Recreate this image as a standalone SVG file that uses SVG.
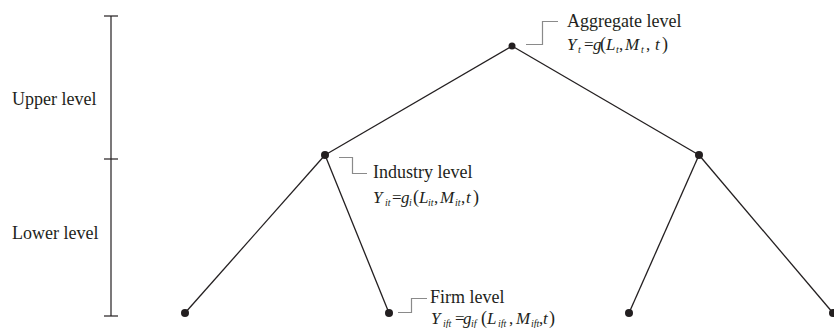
<svg xmlns="http://www.w3.org/2000/svg" width="834" height="328" viewBox="0 0 834 328">
<style>
.edge{stroke:#231f20;stroke-width:1.3;fill:none}
.dot{fill:#231f20}
.call{stroke:#8a8a8a;stroke-width:1.2;fill:none}
.bar{stroke:#231f20;stroke-width:1.2;fill:none}
.lbl{font-family:"Liberation Serif","Times New Roman",serif;font-size:18px;fill:#231f20}
.f{font-family:"Liberation Serif","Times New Roman",serif;font-size:17px;fill:#231f20;font-style:italic}
.u{font-style:normal}
.p{font-style:normal;font-size:18px}
.s{font-size:10px}
</style>
<rect width="834" height="328" fill="#ffffff"/>
<g id="scale">
<line class="bar" x1="111" y1="16" x2="111" y2="316"/>
<line class="bar" x1="104" y1="16" x2="118" y2="16"/>
<line class="bar" x1="104" y1="159" x2="118" y2="159"/>
<line class="bar" x1="104" y1="316" x2="118" y2="316"/>
<text class="lbl" x="12" y="105">Upper level</text>
<text class="lbl" x="12" y="239">Lower level</text>
</g>
<g id="connectors">
<line class="edge" x1="512" y1="46" x2="325" y2="155"/>
<line class="edge" x1="512" y1="46" x2="699" y2="155"/>
<line class="edge" x1="325" y1="155" x2="185" y2="313"/>
<line class="edge" x1="325" y1="155" x2="389" y2="313"/>
<line class="edge" x1="699" y1="155" x2="629" y2="313"/>
<line class="edge" x1="699" y1="155" x2="833" y2="313"/>
</g>
<g id="aggregate">
<circle class="dot" cx="512" cy="46" r="3.5"/>
<polyline class="call" points="526,44.5 542.5,44.5 542.5,21.5 558,21.5"/>
<text class="lbl" x="567" y="27">Aggregate level</text>
<text class="f" y="50"><tspan x="567">Y</tspan><tspan class="s" x="578" y="53">t</tspan><tspan class="u" x="584" y="50">=</tspan><tspan x="593">g</tspan><tspan class="p" x="600">(</tspan><tspan x="606">L</tspan><tspan class="s" x="616" y="53">t</tspan><tspan class="u" x="619" y="50">,</tspan><tspan x="625">M</tspan><tspan class="s" x="641" y="53">t</tspan><tspan class="u" x="646" y="50">,</tspan><tspan x="655">t</tspan><tspan class="p" x="662">)</tspan></text>
</g>
<g id="industry-left">
<circle class="dot" cx="325" cy="155" r="4"/>
<polyline class="call" points="339,157.5 352.5,157.5 352.5,173.5 367,173.5"/>
<text class="lbl" x="373" y="178">Industry level</text>
<text class="f" y="203"><tspan x="373">Y</tspan><tspan class="s" x="385" y="206">it</tspan><tspan class="u" x="392" y="203">=</tspan><tspan x="401">g</tspan><tspan class="s" x="409" y="206">i</tspan><tspan class="p" x="413" y="203">(</tspan><tspan x="419">L</tspan><tspan class="s" x="428" y="206">it</tspan><tspan class="u" x="434" y="203">,</tspan><tspan x="440">M</tspan><tspan class="s" x="455" y="206">it</tspan><tspan class="u" x="461" y="203">,</tspan><tspan x="466">t</tspan><tspan class="p" x="473">)</tspan></text>
</g>
<g id="industry-right">
<circle class="dot" cx="699" cy="155" r="4"/>
</g>
<g id="firm-1">
<circle class="dot" cx="185" cy="313" r="4"/>
</g>
<g id="firm-2">
<circle class="dot" cx="389" cy="313" r="4"/>
<polyline class="call" points="398,312.5 411.5,312.5 411.5,298.5 427,298.5"/>
<text class="lbl" x="430" y="303">Firm level</text>
<text class="f" y="324"><tspan x="431">Y</tspan><tspan class="s" x="443" y="327">ift</tspan><tspan class="u" x="455" y="324">=</tspan><tspan x="463">g</tspan><tspan class="s" x="471" y="327">if</tspan><tspan class="p" x="481" y="324">(</tspan><tspan x="487">L</tspan><tspan class="s" x="498" y="327">ift</tspan><tspan class="u" x="509" y="324">,</tspan><tspan x="516">M</tspan><tspan class="s" x="531" y="327">ift</tspan><tspan class="u" x="539" y="324">,</tspan><tspan x="543">t</tspan><tspan class="p" x="549">)</tspan></text>
</g>
<g id="firm-3">
<circle class="dot" cx="629" cy="313" r="4"/>
</g>
<g id="firm-4">
<circle class="dot" cx="833" cy="313" r="4"/>
</g>
</svg>
